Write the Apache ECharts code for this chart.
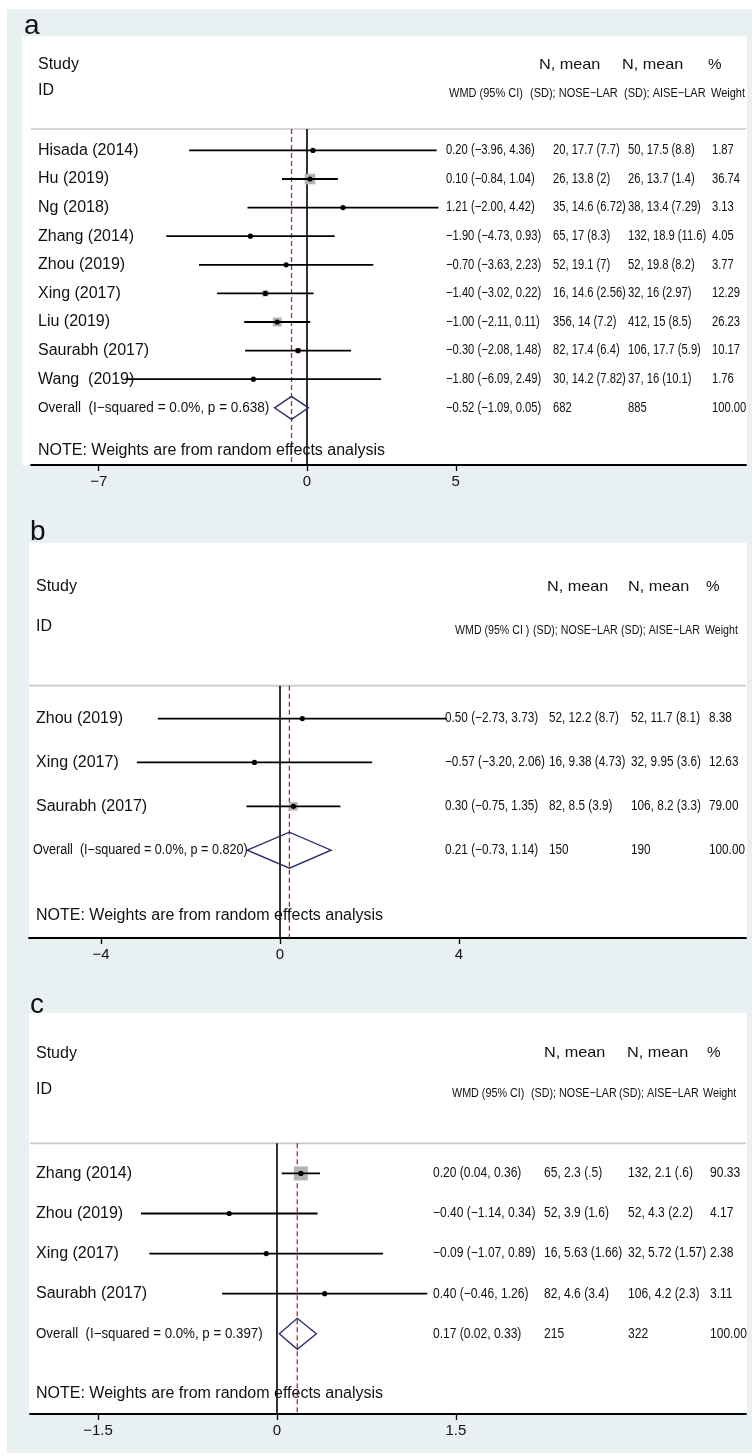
<!DOCTYPE html>
<html><head><meta charset="utf-8">
<script src="https://cdn.jsdelivr.net/npm/echarts@6/dist/echarts.min.js"></script>
<style>html,body{margin:0;padding:0;background:#fff}#c{width:752px;height:1456px}</style>
</head><body><div id="c"></div>
<script>
// ---------- Panel a data ----------
const studiesA = ['Hisada (2014)', 'Hu (2019)', 'Ng (2018)', 'Zhang (2014)', 'Zhou (2019)', 'Xing (2017)', 'Liu (2019)', 'Saurabh (2017)', 'Wang  (2019)'];
const wmdA = [0.20, 0.10, 1.21, -1.90, -0.70, -1.40, -1.00, -0.30, -1.80];
const loA = [-3.96, -0.84, -2.00, -4.73, -3.63, -3.02, -2.11, -2.08, -6.09];
const hiA = [4.36, 1.04, 4.42, 0.93, 2.23, 0.22, 0.11, 1.48, 2.49];
const noseA = ['20, 17.7 (7.7)', '26, 13.8 (2)', '35, 14.6 (6.72)', '65, 17 (8.3)', '52, 19.1 (7)', '16, 14.6 (2.56)', '356, 14 (7.2)', '82, 17.4 (6.4)', '30, 14.2 (7.82)'];
const aiseA = ['50, 17.5 (8.8)', '26, 13.7 (1.4)', '38, 13.4 (7.29)', '132, 18.9 (11.6)', '52, 19.8 (8.2)', '32, 16 (2.97)', '412, 15 (8.5)', '106, 17.7 (5.9)', '37, 16 (10.1)'];
const weightA = [1.87, 36.74, 3.13, 4.05, 3.77, 12.29, 26.23, 10.17, 1.76];
const overallA = [-0.52, -1.09, 0.05];
const overallNA = ['682', '885', 100.00];
const hetA = ['0.0%', '0.638'];
const ticksA = [-7, 0, 5];

// ---------- Panel b data ----------
const studiesB = ['Zhou (2019)', 'Xing (2017)', 'Saurabh (2017)'];
const wmdB = [0.50, -0.57, 0.30];
const loB = [-2.73, -3.20, -0.75];
const hiB = [3.73, 2.06, 1.35];
const noseB = ['52, 12.2 (8.7)', '16, 9.38 (4.73)', '82, 8.5 (3.9)'];
const aiseB = ['52, 11.7 (8.1)', '32, 9.95 (3.6)', '106, 8.2 (3.3)'];
const weightB = [8.38, 12.63, 79.00];
const overallB = [0.21, -0.73, 1.14];
const overallNB = ['150', '190', 100.00];
const hetB = ['0.0%', '0.820'];
const ticksB = [-4, 0, 4];

// ---------- Panel c data ----------
const studiesC = ['Zhang (2014)', 'Zhou (2019)', 'Xing (2017)', 'Saurabh (2017)'];
const wmdC = [0.20, -0.40, -0.09, 0.40];
const loC = [0.04, -1.14, -1.07, -0.46];
const hiC = [0.36, 0.34, 0.89, 1.26];
const noseC = ['65, 2.3 (.5)', '52, 3.9 (1.6)', '16, 5.63 (1.66)', '82, 4.6 (3.4)'];
const aiseC = ['132, 2.1 (.6)', '52, 4.3 (2.2)', '32, 5.72 (1.57)', '106, 4.2 (2.3)'];
const weightC = [90.33, 4.17, 2.38, 3.11];
const overallC = [0.17, 0.02, 0.33];
const overallNC = ['215', '322', 100.00];
const hetC = ['0.0%', '0.397'];
const ticksC = [-1.5, 0, 1.5];

// ---------- layout / style ----------
const FONT = '"Liberation Sans", Arial, Helvetica, sans-serif';
const layouts = [
  {grid:{left:31, top:36, width:715, height:429}, xmin:-9.277, xmax:14.756, ymin:-4, ymax:11,
   panel:[22,36,725,429], letter:{t:'a', x:24, y:40}, box:1.75, dh:11.5, ovScale:0.97, numScale:0.8, h2Scale:0.88, wmdHead:'WMD (95% CI)',
   cols:{name:38, overall:38, wmd:446, nose:553, aise:628, w:712, h1a:539, h1b:622, pct:708, wmdH:449, noseH:530, aiseH:624, weightH:711}},
  {grid:{left:29, top:543, width:717, height:395}, xmin:-5.609, xmax:10.413, ymin:-4, ymax:5,
   panel:[29,543,718,395], letter:{t:'b', x:30, y:546}, box:0.95, dh:18, ovScale:0.9, numScale:0.84, h2Scale:0.85, wmdHead:'WMD (95% CI )',
   cols:{name:36, overall:33, wmd:445, nose:549, aise:631, w:709, h1a:547, h1b:628, pct:706, wmdH:455, noseH:533, aiseH:621, weightH:705}},
  {grid:{left:30, top:1013, width:716, height:401}, xmin:-2.070, xmax:3.931, ymin:-4, ymax:6,
   panel:[29,1013,718,401], letter:{t:'c', x:30, y:1019}, box:1.47, dh:15.5, ovScale:0.95, numScale:0.86, h2Scale:0.86, wmdHead:'WMD (95% CI)',
   cols:{name:36, overall:36, wmd:433, nose:544, aise:628, w:710, h1a:544, h1b:627, pct:707, wmdH:452, noseH:531, aiseH:619, weightH:703}}
];
const datasets = [
  {names:studiesA, est:wmdA, lo:loA, hi:hiA, nose:noseA, aise:aiseA, w:weightA, ov:overallA, ovN:overallNA, het:hetA, ticks:ticksA},
  {names:studiesB, est:wmdB, lo:loB, hi:hiB, nose:noseB, aise:aiseB, w:weightB, ov:overallB, ovN:overallNB, het:hetB, ticks:ticksB},
  {names:studiesC, est:wmdC, lo:loC, hi:hiC, nose:noseC, aise:aiseC, w:weightC, ov:overallC, ovN:overallNC, het:hetC, ticks:ticksC}
];

const minus = s => String(s).replace(/-/g, '\u2212');
const f2 = v => minus(v.toFixed(2));
const ciText = (e, l, h) => f2(e) + ' (' + f2(l) + ', ' + f2(h) + ')';

function txt(str, x, y, size, sx) {
  return {type:'text', x:x, y:y, scaleX:sx || 1,
    style:{text:str, fontSize:size, fontFamily:FONT, fill:'#111', align:'left', verticalAlign:'middle'}};
}

const SEP_ROW = -0.75;
const NUM_FS = 14;
const grids = [], xAxes = [], yAxes = [], series = [], graphics = [];

graphics.push({type:'rect', shape:{x:7, y:9, width:745, height:1444}, style:{fill:'#e8f0f2'}, z:-100, silent:true});

layouts.forEach((L, i) => {
  const D = datasets[i];
  const n = D.names.length;
  const C = L.cols;
  const ns = L.numScale;
  grids.push(L.grid);
  graphics.push({type:'rect', shape:{x:L.panel[0], y:L.panel[1], width:L.panel[2], height:L.panel[3]}, style:{fill:'#ffffff'}, z:-90, silent:true});
  graphics.push({type:'text', x:L.letter.x, y:L.letter.y, style:{text:L.letter.t, fontSize:28, fontFamily:FONT, fill:'#111', verticalAlign:'bottom'}, z:100});
  xAxes.push({type:'value', gridIndex:i, min:L.xmin, max:L.xmax, position:'bottom',
    splitLine:{show:false},
    axisLine:{show:true, onZero:false, lineStyle:{color:'#000', width:1.8}},
    axisTick:{show:true, customValues:D.ticks, length:6, lineStyle:{color:'#000', width:1.3}},
    axisLabel:{customValues:D.ticks, fontSize:15, fontFamily:FONT, color:'#111', margin:9, formatter:v => minus(v)}});
  yAxes.push({type:'value', gridIndex:i, min:L.ymin, max:L.ymax, inverse:true, show:false});

  const ax = {xAxisIndex:i, yAxisIndex:i};
  // separator
  series.push(Object.assign({type:'line', data:[[L.xmin, SEP_ROW], [L.xmax, SEP_ROW]], symbol:'none', silent:true,
    lineStyle:{color:'#c8c8c8', width:1.6}, z:1}, ax));
  // zero line
  series.push(Object.assign({type:'line', data:[[0, SEP_ROW], [0, L.ymax]], symbol:'none', silent:true,
    lineStyle:{color:'#000', width:1.6}, z:2}, ax));
  // overall estimate dashed line
  series.push(Object.assign({type:'line', data:[[D.ov[0], SEP_ROW], [D.ov[0], L.ymax]], symbol:'none', silent:true,
    lineStyle:{color:'#b02a2a', width:1.3, type:[5, 3]}, z:2}, ax));
  // study CIs with weighted boxes
  series.push(Object.assign({type:'custom', z:3, silent:true,
    data:D.names.map((_, k) => [D.lo[k], D.hi[k], D.est[k], D.w[k], k]),
    encode:{x:[0, 1, 2], y:4},
    renderItem:(params, api) => {
      const lo = api.value(0), hi = api.value(1), est = api.value(2), w = api.value(3), row = api.value(4);
      const p1 = api.coord([lo, row]), p2 = api.coord([hi, row]), pe = api.coord([est, row]);
      const s = L.box * Math.sqrt(w);
      return {type:'group', children:[
        {type:'rect', shape:{x:pe[0] - s / 2, y:pe[1] - s / 2, width:s, height:s}, style:{fill:'#b4b4b4'}},
        {type:'line', shape:{x1:p1[0], y1:p1[1], x2:p2[0], y2:p2[1]}, style:{stroke:'#000', lineWidth:1.8}},
        {type:'circle', shape:{cx:pe[0], cy:pe[1], r:2.6}, style:{fill:'#000'}}
      ]};
    }}, ax));
  // overall diamond
  series.push(Object.assign({type:'custom', z:4, silent:true,
    data:[[D.ov[1], D.ov[2], D.ov[0], n]],
    encode:{x:[0, 1, 2], y:3},
    renderItem:(params, api) => {
      const row = api.value(3);
      const pl = api.coord([api.value(0), row]), pr = api.coord([api.value(1), row]), pe = api.coord([api.value(2), row]);
      return {type:'polygon', shape:{points:[[pl[0], pl[1]], [pe[0], pe[1] - L.dh], [pr[0], pr[1]], [pe[0], pe[1] + L.dh]]},
        style:{fill:'none', stroke:'#2c2e6c', lineWidth:1.4}};
    }}, ax));
  // study row texts
  series.push(Object.assign({type:'custom', z:5, silent:true,
    data:D.names.map((_, k) => [0, k]),
    encode:{x:0, y:1},
    renderItem:(params, api) => {
      const k = params.dataIndex;
      const y = api.coord([0, api.value(1)])[1];
      return {type:'group', children:[
        txt(D.names[k], C.name, y, 16, 1),
        txt(ciText(D.est[k], D.lo[k], D.hi[k]), C.wmd, y, NUM_FS, ns),
        txt(D.nose[k], C.nose, y, NUM_FS, ns),
        txt(D.aise[k], C.aise, y, NUM_FS, ns),
        txt(D.w[k].toFixed(2), C.w, y, NUM_FS, ns)
      ]};
    }}, ax));
  // overall row, headers and note
  series.push(Object.assign({type:'custom', z:5, silent:true,
    data:[[0, n]],
    encode:{x:0, y:1},
    renderItem:(params, api) => {
      const yo = api.coord([0, n])[1];
      const yS = api.coord([0, -3])[1];
      const yI = api.coord([0, -2.1])[1];
      const yH2 = api.coord([0, -2.0])[1];
      const yN = api.coord([0, n + 1.5])[1];
      return {type:'group', children:[
        txt('Overall  (I\u2212squared = ' + D.het[0] + ', p = ' + D.het[1] + ')', C.overall, yo, 14, L.ovScale),
        txt(ciText(D.ov[0], D.ov[1], D.ov[2]), C.wmd, yo, NUM_FS, ns),
        txt(D.ovN[0], C.nose, yo, NUM_FS, ns),
        txt(D.ovN[1], C.aise, yo, NUM_FS, ns),
        txt(D.ovN[2].toFixed(2), C.w, yo, NUM_FS, ns),
        txt('Study', C.name, yS, 16, 1),
        txt('ID', C.name, yI, 16, 1),
        txt('N, mean', C.h1a, yS, 14.5, 1.12),
        txt('N, mean', C.h1b, yS, 14.5, 1.12),
        txt('%', C.pct, yS, 14.5, 1.05),
        txt(L.wmdHead, C.wmdH, yH2, 12.5, L.h2Scale),
        txt('(SD); NOSE\u2212LAR', C.noseH, yH2, 12.5, L.h2Scale),
        txt('(SD); AISE\u2212LAR', C.aiseH, yH2, 12.5, L.h2Scale),
        txt('Weight', C.weightH, yH2, 12.5, L.h2Scale),
        txt('NOTE: Weights are from random effects analysis', C.name, yN, 16, 1)
      ]};
    }}, ax));
});

const chart = echarts.init(document.getElementById('c'), null, {renderer:'canvas'});
chart.setOption({
  animation:false,
  backgroundColor:'#ffffff',
  graphic:{elements:graphics},
  grid:grids, xAxis:xAxes, yAxis:yAxes, series:series
});
</script>
</body></html>
